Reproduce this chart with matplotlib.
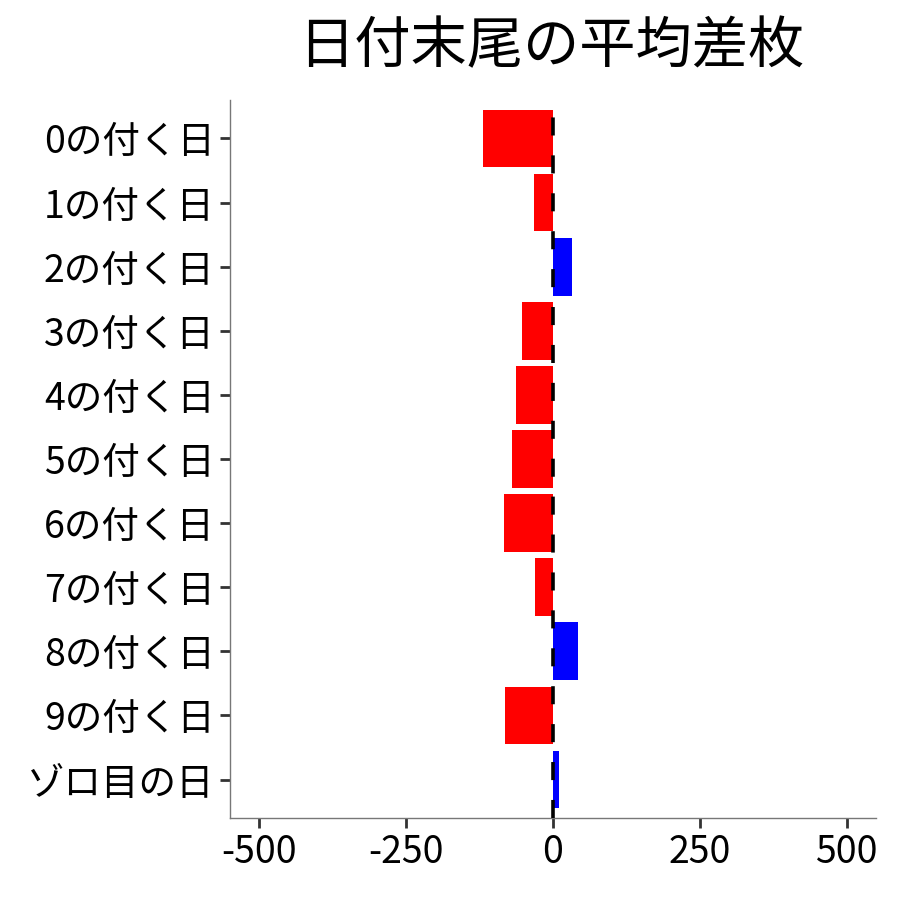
import numpy as np
import matplotlib
matplotlib.use("Agg")
import matplotlib.pyplot as plt

plt.rcParams['font.family'] = ['Noto Sans CJK JP', 'DejaVu Sans']

categories = ["0の付く日", "1の付く日", "2の付く日", "3の付く日", "4の付く日",
              "5の付く日", "6の付く日", "7の付く日", "8の付く日", "9の付く日", "ゾロ目の日"]
diffs = [-120, -32, 32, -53, -63, -70, -84, -31, 42, -82, 10]
xticks = [-500, -250, 0, 250, 500]

colors = ["#0000FF" if v > 0 else "#FF0000" for v in diffs]
ypos = np.arange(len(categories))

fig = plt.figure(figsize=(9, 9), dpi=100)
ax = fig.add_axes([0.2556, 0.0911, 0.7177, 0.7978])

ax.barh(ypos, diffs, height=0.9, color=colors, zorder=2)
ax.axvline(0, color="black", lw=2.6, linestyle=(0, (5, 5.5)), zorder=3)

ax.set_xlim(-550, 550)
ax.set_ylim(len(categories) - 0.4, -0.6)
ax.set_yticks(ypos)
ax.set_yticklabels(categories)
ax.set_xticks(xticks)
ax.set_xticklabels([str(t) for t in xticks])

for s in ["top", "right"]:
    ax.spines[s].set_visible(False)
for s in ["left", "bottom"]:
    ax.spines[s].set_color("#777777")
    ax.spines[s].set_linewidth(1.0)

ax.tick_params(axis="both", labelsize=27, length=7, width=2, color="#333333",
               labelcolor="black", pad=4)

fig.text(0.612, 0.947, "日付末尾の平均差枚", ha="center", va="center", fontsize=40.5)

fig.savefig("out.png", dpi=100)
